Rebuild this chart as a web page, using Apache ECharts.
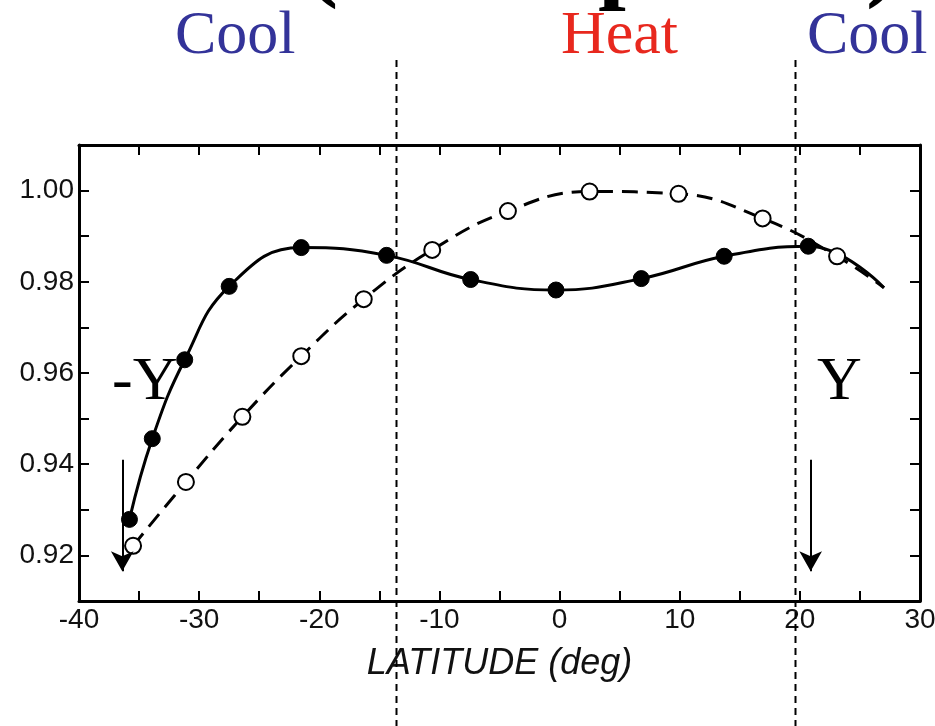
<!DOCTYPE html>
<html>
<head>
<meta charset="utf-8">
<style>
  html, body { margin: 0; padding: 0; background: #fff; }
  #container { width: 935px; height: 726px; }
</style>
<script src="https://cdn.jsdelivr.net/npm/echarts@6/dist/echarts.min.js"></script>
</head>
<body>
<div id="container"></div>
<script>
var dom = document.getElementById('container');
var myChart = echarts.init(dom, null, {
    renderer: 'canvas',
    useDirtyRect: false
});

var option;

// filled dots, solid curve
var solidLat = [-35.8, -33.9, -31.2, -27.5, -21.5, -14.4, -7.4, -0.3, 6.8, 13.7, 20.7, 27.0];
var solidVal = [0.9279, 0.9456, 0.9629, 0.9790, 0.9875, 0.9858, 0.9805, 0.9782, 0.9807, 0.9856, 0.9878, 0.9787];

// open dots, dashed curve
var dashLat = [-35.5, -31.1, -26.4, -21.5, -16.3, -10.6, -4.3, 2.5, 9.9, 16.9, 23.1, 27.0];
var dashVal = [0.9221, 0.9361, 0.9504, 0.9637, 0.9762, 0.9870, 0.9955, 0.9998, 0.9993, 0.9939, 0.9856, 0.9787];

// dotted boundaries and the two arrows (latitude)
var bounds = [-13.6, 19.6];
var arrowLat = [-36.4, 20.9];
var arrowFrom = 0.9410;
var arrowTo = 0.9165;

var topWords = [
    { text: 'Cool', x: 175, color: '#333399' },
    { text: 'Heat', x: 561, color: '#e8281e' },
    { text: 'Cool', x: 807, color: '#333399' }
];

function toPoints(xs, ys) {
    return xs.map(function (x, i) {
        var p = { value: [x, ys[i]] };
        if (i === xs.length - 1) {
            p.symbol = 'none'; // curve end, no dot
        }
        return p;
    });
}

var serif = '"Liberation Serif", "Times New Roman", serif';
var sans = '"Liberation Sans", Arial, sans-serif';

function boxAxis(pos, isX) {
    return {
        type: 'value',
        position: pos,
        min: isX ? -40 : 0.91,
        max: isX ? 30 : 1.01,
        interval: isX ? 5 : 0.01,
        axisLine: { show: true, onZero: false, lineStyle: { color: '#000', width: 3 } },
        axisTick: { show: true, inside: true, length: 10, lineStyle: { color: '#000', width: 2 } },
        axisLabel: { show: false },
        splitLine: { show: false }
    };
}

var xBottom = boxAxis('bottom', true);
xBottom.axisLabel = {
    show: true,
    fontFamily: sans,
    fontSize: 28,
    color: '#111',
    margin: 5,
    formatter: function (v) {
        return v % 10 === 0 ? String(v) : '';
    }
};
xBottom.name = 'LATITUDE (deg)';
xBottom.nameLocation = 'middle';
xBottom.nameGap = 45;
xBottom.nameTextStyle = { fontFamily: sans, fontStyle: 'italic', fontSize: 36, color: '#111' };

var yLeft = boxAxis('left', false);
yLeft.axisLabel = {
    show: true,
    fontFamily: sans,
    fontSize: 28,
    color: '#111',
    margin: 5,
    formatter: function (v) {
        var n = Math.round(v * 100);
        return n % 2 === 0 ? (n / 100).toFixed(2) : '';
    }
};

option = {
    backgroundColor: '#fff',
    animation: false,
    grid: { left: 79, right: 15, top: 145, bottom: 125, containLabel: false, outerBoundsMode: 'none' },
    xAxis: [xBottom, boxAxis('top', true)],
    yAxis: [yLeft, boxAxis('right', false)],
    series: [
        {
            type: 'line',
            data: toPoints(solidLat, solidVal),
            smooth: 0.45,
            symbol: 'circle',
            symbolSize: 16,
            showAllSymbol: true,
            lineStyle: { color: '#000', width: 3 },
            itemStyle: { color: '#000', borderColor: '#000', borderWidth: 1 },
            z: 3,
            markLine: {
                silent: true,
                symbol: ['none', 'arrow'],
                symbolSize: [17, 20],
                label: { show: false },
                lineStyle: { color: '#000', width: 2, type: 'solid' },
                data: arrowLat.map(function (x) {
                    return [{ coord: [x, arrowFrom] }, { coord: [x, arrowTo] }];
                })
            }
        },
        {
            type: 'line',
            data: toPoints(dashLat, dashVal),
            smooth: 0.45,
            symbol: 'circle',
            symbolSize: 16,
            showAllSymbol: true,
            lineStyle: { color: '#000', width: 3, type: [16, 9] },
            itemStyle: { color: '#fff', borderColor: '#000', borderWidth: 2 },
            z: 4
        }
    ]
};

myChart.setOption(option);

// annotations: words on top, -Y / Y, dotted boundaries
var gfx = [];
topWords.forEach(function (w) {
    gfx.push({
        type: 'text', left: w.x, top: 6, z: 10,
        style: { text: w.text, fill: w.color, font: '62px ' + serif }
    });
});
// bits of a cut-off title above
[['(', 305, -88], ['p', 598, -86], [')', 866, -88]].forEach(function (g) {
    gfx.push({
        type: 'text', left: g[1], top: g[2], z: 10,
        style: { text: g[0], fill: '#000', font: 'bold 100px ' + serif }
    });
});
gfx.push({ type: 'text', left: 112, top: 352, z: 10, style: { text: '-Y', fill: '#000', font: '62px ' + serif } });
gfx.push({ type: 'text', left: 817, top: 352, z: 10, style: { text: 'Y', fill: '#000', font: '62px ' + serif } });

bounds.forEach(function (lat) {
    var px = Math.round(myChart.convertToPixel({ xAxisIndex: 0 }, lat)) + 0.5;
    gfx.push({
        type: 'line', z: 20, silent: true,
        shape: { x1: px, y1: 60, x2: px, y2: 726 },
        style: { stroke: '#000', lineWidth: 2, lineDash: [7, 5] }
    });
});

myChart.setOption({ graphic: gfx });

window.addEventListener('resize', myChart.resize);
</script>
</body>
</html>
